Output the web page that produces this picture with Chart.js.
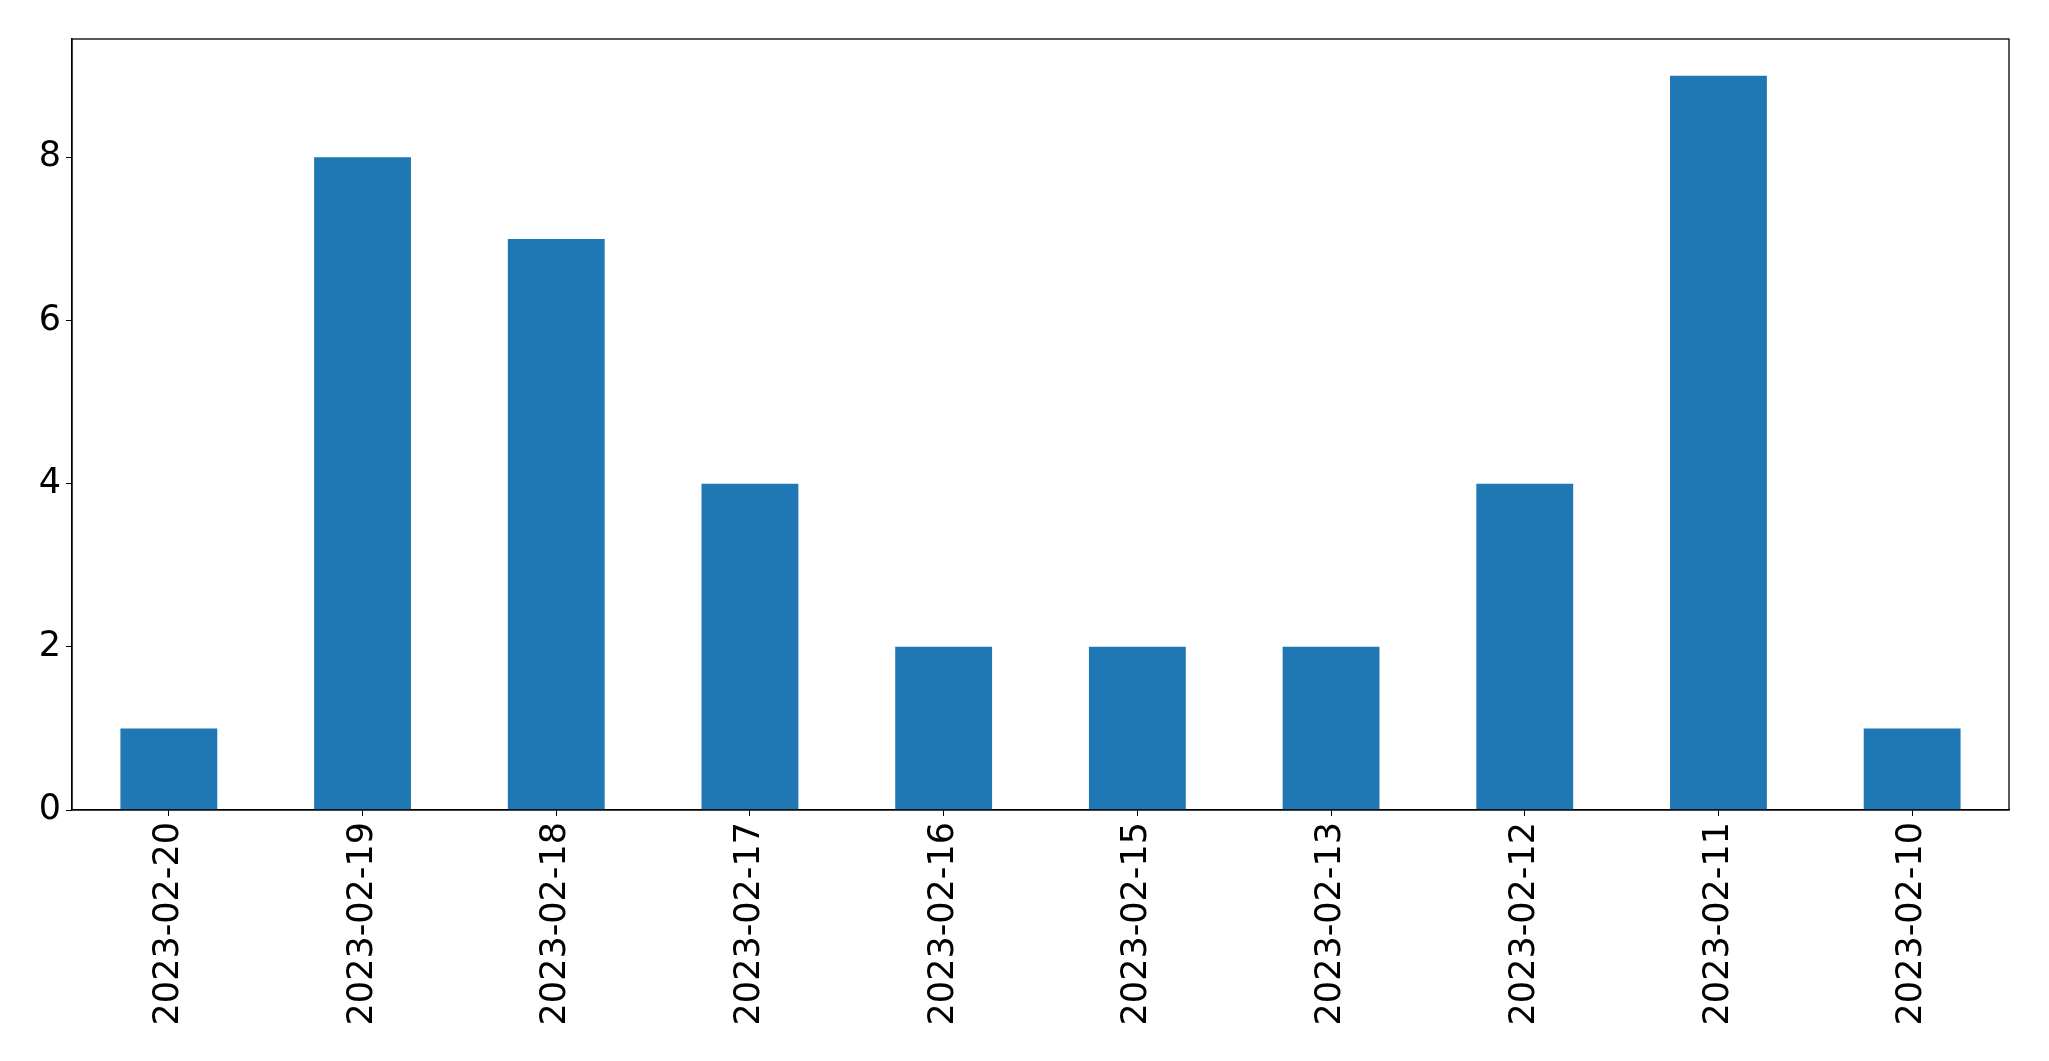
<!DOCTYPE html>
<html>
<head>
<meta charset="utf-8">
<script src="https://cdn.jsdelivr.net/npm/chart.js@4/dist/chart.umd.min.js"></script>
<style>
  html, body { margin: 0; padding: 0; background: #ffffff; }
  #wrap { width: 2049px; height: 1061px; }
</style>
</head>
<body>
<div id="wrap"><canvas id="barChart" width="2049" height="1061"></canvas></div>
<script>
// Dates on the x axis, in the order they appear
const dates = ['2023-02-20', '2023-02-19', '2023-02-18', '2023-02-17', '2023-02-16',
               '2023-02-15', '2023-02-13', '2023-02-12', '2023-02-11', '2023-02-10'];
// Count for each date
const counts = [1, 8, 7, 4, 2, 2, 2, 4, 9, 1];
// Y axis ticks
const yTicks = [0, 2, 4, 6, 8];
const yMax = 9.45;

const fontFamily = '"DejaVu Sans", sans-serif';

// Draws the closed frame round the plot area, like matplotlib's spines
const frameBox = {
    id: 'frameBox',
    afterDraw(chart) {
        const a = chart.chartArea;
        const ctx = chart.ctx;
        ctx.save();
        ctx.strokeStyle = '#000000';
        ctx.lineWidth = 1.3;
        ctx.strokeRect(a.left, a.top, a.right - a.left, a.bottom - a.top);
        ctx.restore();
    }
};

const ctx = document.getElementById('barChart').getContext('2d');
new Chart(ctx, {
    type: 'bar',
    data: {
        labels: dates,
        datasets: [{
            data: counts,
            backgroundColor: '#1f77b4',
            borderWidth: 0,
            barPercentage: 0.5,
            categoryPercentage: 1.0
        }]
    },
    options: {
        responsive: false,
        animation: false,
        layout: { padding: { top: 39, right: 40, left: 0, bottom: 0 } },
        plugins: {
            legend: { display: false },
            tooltip: { enabled: false }
        },
        scales: {
            x: {
                offset: true,
                grid: {
                    drawOnChartArea: false,
                    tickLength: 6,
                    tickColor: '#000000',
                    offset: false
                },
                border: { color: '#000000', width: 1.3 },
                ticks: {
                    color: '#000000',
                    font: { family: fontFamily, size: 35 },
                    minRotation: 90,
                    maxRotation: 90,
                    padding: 6,
                    autoSkip: false
                },
                afterFit: function(scale) { scale.height = 1061 - 810; }
            },
            y: {
                min: 0,
                max: yMax,
                afterBuildTicks: function(scale) {
                    scale.ticks = yTicks.map(v => ({ value: v }));
                },
                grid: {
                    drawOnChartArea: false,
                    tickLength: 6,
                    tickColor: '#000000'
                },
                border: { color: '#000000', width: 1.3 },
                ticks: {
                    color: '#000000',
                    font: { family: fontFamily, size: 35 },
                    padding: 5
                },
                afterFit: function(scale) { scale.width = 72; }
            }
        }
    },
    plugins: [frameBox]
});
</script>
</body>
</html>
